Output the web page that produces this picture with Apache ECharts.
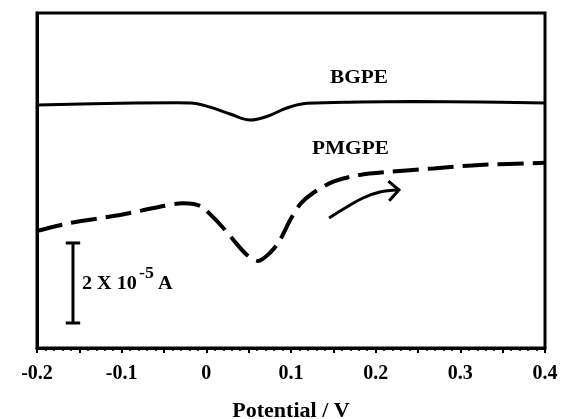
<!DOCTYPE html>
<html>
<head>
<meta charset="utf-8">
<script src="https://cdn.jsdelivr.net/npm/echarts@6/dist/echarts.min.js"></script>
<style>
html,body{margin:0;padding:0;background:#fff;}
#main{width:564px;height:419px;}
</style>
</head>
<body>
<div id="main"></div>
<script>
// Potential (V) vs current (units of 1e-5 A, arbitrary offset)
var bgpePotential = [-0.2, -0.102, -0.035, -0.019, 0.004, 0.028, 0.052, 0.073, 0.095, 0.119, 0.181, 0.244, 0.323, 0.4];
var bgpeCurrent   = [6.075, 6.118, 6.13, 6.125, 6.025, 5.85, 5.7, 5.8, 6.0, 6.118, 6.15, 6.16, 6.15, 6.125];

var pmgpePotential = [-0.2, -0.161, -0.102, -0.055, -0.028, -0.015, -0.005, 0.008, 0.020, 0.032, 0.048, 0.061, 0.075, 0.087, 0.099, 0.111, 0.126, 0.150, 0.181, 0.220, 0.268, 0.323, 0.4];
var pmgpeCurrent   = [2.925, 3.125, 3.325, 3.53, 3.62, 3.6, 3.525, 3.27, 3.0, 2.7, 2.325, 2.175, 2.375, 2.7, 3.2, 3.6, 3.875, 4.16, 4.325, 4.41, 4.49, 4.575, 4.63];

// sweep-direction arrow (data coordinates)
var arrowShaftX = [0.145, 0.164, 0.185, 0.205, 0.226];
var arrowShaftY = [3.25, 3.5, 3.75, 3.9, 3.95];
var arrowHeadX = [0.215, 0.2275, 0.216];
var arrowHeadY = [4.17, 3.95, 3.68];

// scale bar: 2 x 10^-5 A
var scaleBarX = -0.1575;
var scaleBarY = [0.625, 2.625];
var scaleCap = 0.0085;

var xTicks = [-0.2, -0.1, 0, 0.1, 0.2, 0.3, 0.4];
var seriesNames = ['BGPE', 'PMGPE'];
var xAxisTitle = 'Potential / V';

function zip(a, b) { return a.map(function (v, i) { return [v, b[i]]; }); }

var font = '"Liberation Serif", "Times New Roman", serif';
var chart = echarts.init(document.getElementById('main'));
chart.setOption({
  animation: false,
  grid: { left: 37, right: 19, top: 13, bottom: 71, containLabel: false, outerBoundsMode: 'none',
          show: true, borderColor: '#000', borderWidth: 3 },
  xAxis: {
    type: 'value', min: -0.2, max: 0.4, interval: 0.05,
    axisLine: { show: true, onZero: false, lineStyle: { color: '#000', width: 3 } },
    axisTick: { show: true, inside: false, length: 5, lineStyle: { color: '#000', width: 2 } },
    minorTick: { show: true, splitNumber: 5, length: 3, lineStyle: { color: '#000', width: 1.5 } },
    splitLine: { show: false },
    axisLabel: {
      color: '#000', fontFamily: font, fontWeight: 'bold', fontSize: 20, margin: 16,
      formatter: function (v) {
        var r = Math.round(v * 100) / 100;
        for (var i = 0; i < xTicks.length; i++) { if (Math.abs(xTicks[i] - r) < 1e-6) return String(xTicks[i]); }
        return '';
      }
    },
    name: xAxisTitle, nameLocation: 'middle', nameGap: 52,
    nameTextStyle: { color: '#000', fontFamily: font, fontWeight: 'bold', fontSize: 22 }
  },
  yAxis: {
    type: 'value', min: 0, max: 8.375,
    axisLine: { show: true, onZero: false, lineStyle: { color: '#000', width: 3 } },
    axisTick: { show: false }, axisLabel: { show: false }, splitLine: { show: false }
  },
  series: [
    { name: seriesNames[0], type: 'line', data: zip(bgpePotential, bgpeCurrent), smooth: 0.4, showSymbol: false,
      lineStyle: { color: '#000', width: 3 } },
    { name: seriesNames[1], type: 'line', data: zip(pmgpePotential, pmgpeCurrent), smooth: 0.3, showSymbol: false,
      lineStyle: { color: '#000', width: 4, type: [26, 9] } },
    { type: 'line', data: zip(arrowShaftX, arrowShaftY), smooth: 0.4, showSymbol: false,
      lineStyle: { color: '#000', width: 3 } },
    { type: 'line', data: zip(arrowHeadX, arrowHeadY), showSymbol: false,
      lineStyle: { color: '#000', width: 3, join: 'miter' } },
    { type: 'line', data: [[scaleBarX, scaleBarY[0]], [scaleBarX, scaleBarY[1]]], showSymbol: false,
      lineStyle: { color: '#000', width: 3 } },
    { type: 'line', data: [[scaleBarX - scaleCap, scaleBarY[0]], [scaleBarX + scaleCap, scaleBarY[0]]], showSymbol: false,
      lineStyle: { color: '#000', width: 3 } },
    { type: 'line', data: [[scaleBarX - scaleCap, scaleBarY[1]], [scaleBarX + scaleCap, scaleBarY[1]]], showSymbol: false,
      lineStyle: { color: '#000', width: 3 } }
  ],
  graphic: [
    { type: 'text', x: 330, y: 78, scaleX: 1.12, style: { text: seriesNames[0], fill: '#000', font: 'bold 19px ' + font, verticalAlign: 'middle' } },
    { type: 'text', x: 312, y: 149, scaleX: 1.12, style: { text: seriesNames[1], fill: '#000', font: 'bold 19px ' + font, verticalAlign: 'middle' } },
    { type: 'text', x: 82, y: 284, scaleX: 1.12, style: { text: '2 X 10', fill: '#000', font: 'bold 18px ' + font, verticalAlign: 'middle' } },
    { type: 'text', x: 139, y: 274, scaleX: 1.12, style: { text: '-5', fill: '#000', font: 'bold 16px ' + font, verticalAlign: 'middle' } },
    { type: 'text', x: 158, y: 284, scaleX: 1.12, style: { text: 'A', fill: '#000', font: 'bold 18px ' + font, verticalAlign: 'middle' } }
  ]
});
</script>
</body>
</html>
